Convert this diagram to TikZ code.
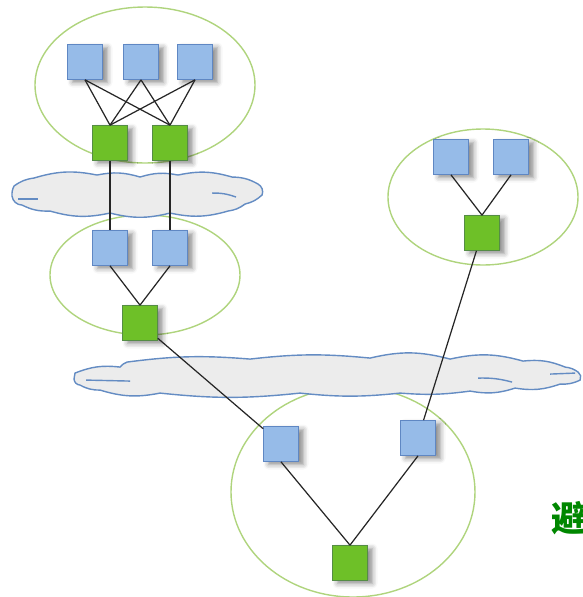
\documentclass[tikz,border=0pt]{standalone}
\usepackage{fontspec}
\usepackage{xcolor}
\usepackage{tikz}
\usetikzlibrary{shadows.blur}
\newfontfamily\cjkfont{Noto Sans CJK SC}

\definecolor{boxblue}{RGB}{150,187,232}
\definecolor{boxblueline}{RGB}{95,135,195}
\definecolor{boxgreen}{RGB}{110,192,40}
\definecolor{boxgreenline}{RGB}{85,140,70}
\definecolor{zonegreen}{RGB}{175,212,125}
\definecolor{cloudline}{RGB}{100,140,195}
\definecolor{cloudfill}{RGB}{236,236,236}
\definecolor{textgreen}{RGB}{0,135,0}

\begin{document}
\begin{tikzpicture}[
    bluebox/.style={draw=boxblueline,fill=boxblue,minimum size=0.7cm,inner sep=0pt,
        blur shadow={shadow xshift=0.1cm,shadow yshift=-0.06cm,shadow blur radius=0.1cm,shadow opacity=45}},
    greenbox/.style={draw=boxgreenline,fill=boxgreen,minimum size=0.7cm,inner sep=0pt,
        blur shadow={shadow xshift=0.1cm,shadow yshift=-0.06cm,shadow blur radius=0.1cm,shadow opacity=45}},
    zone/.style={draw=zonegreen,thick},
    netcloud/.style={draw=cloudline,fill=cloudfill,thick,line join=round},
    puff/.style={bend left=14},
    link/.style={black!85,line width=0.7pt}
]
\useasboundingbox (0,0) rectangle (11.66,-11.94);

% zones
\draw[zone] (2.9,-1.7) ellipse (2.2cm and 1.56cm);
\draw[zone] (2.9,-5.5) ellipse (1.9cm and 1.2cm);
\draw[zone] (9.66,-3.94) ellipse (1.9cm and 1.36cm);
\draw[zone] (7.06,-9.84) ellipse (2.44cm and 2.1cm);

% clouds (pixel units)
\begin{scope}[x=0.02cm,y=-0.02cm]
\draw[netcloud] (14,186) to[puff] (34,178) to[puff] (97,175) to[puff] (140,177)
    to[puff] (178,175) to[puff] (232,177) to[puff] (258,184) to[bend left=40] (262,195)
    to[puff] (245,204) to[puff] (228,211) to[puff] (170,213) to[puff] (110,213)
    to[puff] (50,211) to[puff] (22,205) to[bend left=40] (12,196) to[puff] cycle;
\draw[netcloud] (18,199) -- (38,199);
\draw[netcloud] (212,193) to[bend left=10] (236,197);

\draw[netcloud] (75,373) to[puff] (120,367) to[puff] (127,362) to[bend left=6] (250,359)
    to[bend left=6] (370,358) to[puff] (450,359) to[puff] (523,361) to[puff] (565,367)
    to[puff] (578,372) to[bend left=40] (580,380) to[puff] (560,384) to[puff] (515,388)
    to[puff] (470,391) to[bend left=6] (400,393) to[bend left=6] (300,393)
    to[bend left=6] (160,393) to[puff] (100,390) to[puff] (80,385) to[bend left=40] (74,379)
    to[puff] cycle;
\draw[netcloud] (86,380) -- (130,381);
\draw[netcloud] (478,378) to[bend left=8] (512,382);
\draw[netcloud] (550,374) -- (575,373);
\end{scope}

% boxes
\node[bluebox] (t1) at (1.7,-1.24) {};
\node[bluebox] (t2) at (2.82,-1.24) {};
\node[bluebox] (t3) at (3.9,-1.24) {};
\node[greenbox] (g1) at (2.2,-2.86) {};
\node[greenbox] (g2) at (3.4,-2.86) {};

\node[bluebox] (m1) at (2.2,-4.96) {};
\node[bluebox] (m2) at (3.4,-4.96) {};
\node[greenbox] (mg) at (2.8,-6.46) {};

\node[bluebox] (r1) at (9.02,-3.14) {};
\node[bluebox] (r2) at (10.22,-3.14) {};
\node[greenbox] (rg) at (9.64,-4.66) {};

\node[bluebox] (b1) at (5.62,-8.88) {};
\node[bluebox] (b2) at (8.36,-8.76) {};
\node[greenbox] (bg) at (7.0,-11.26) {};

% links
\foreach \t in {t1,t2,t3} {
    \foreach \g in {g1,g2} {
        \draw[link] (\t.south) -- (\g.north);
    }
}
\draw[link] (g1) -- (m1);
\draw[link] (g2) -- (m2);
\draw[link] (m1.south) -- (mg.north);
\draw[link] (m2.south) -- (mg.north);
\draw[link] (r1.south) -- (rg.north);
\draw[link] (r2.south) -- (rg.north);
\draw[link] (mg) -- (b1);
\draw[link] (rg) -- (b2);
\draw[link] (b1.south) -- (bg.north);
\draw[link] (b2.south) -- (bg.north);

\node[anchor=west,inner sep=0pt,text=textgreen,font=\cjkfont\bfseries\fontsize{20}{24}\selectfont] (bi) at (11.02,-10.36) {避};
\end{tikzpicture}
\end{document}
